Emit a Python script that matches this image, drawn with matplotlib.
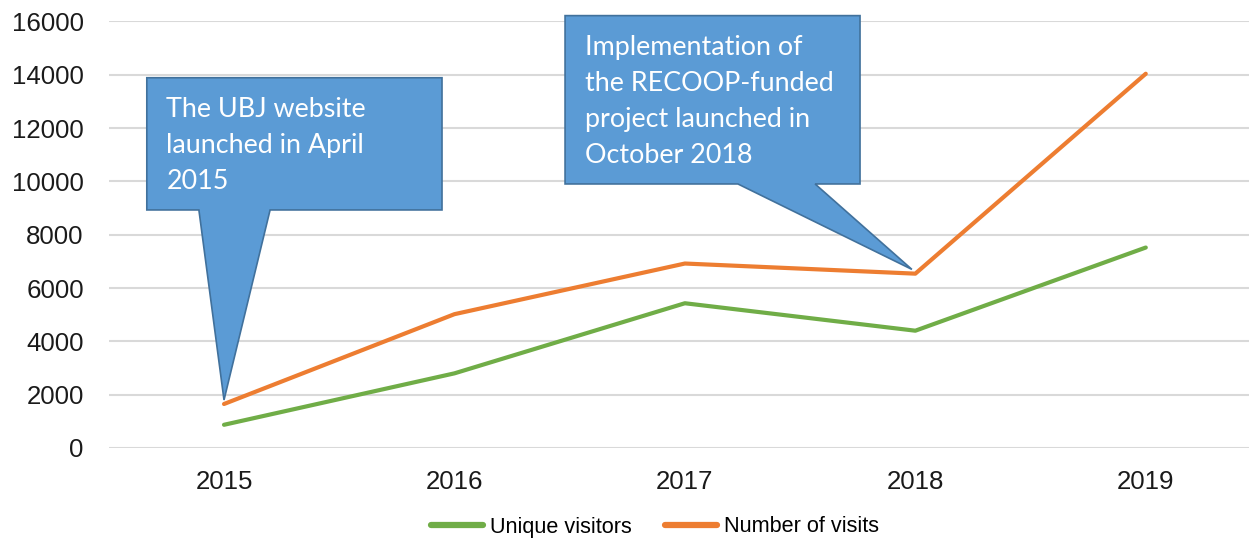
"""
Website traffic chart: unique visitors vs number of visits, 2015-2019,
with two callout boxes marking launch events.
"""

import matplotlib.pyplot as plt
from matplotlib.patches import Polygon


YEARS = ["2015", "2016", "2017", "2018", "2019"]
UNIQUE_VISITORS = [870, 2800, 5430, 4400, 7520]
NUMBER_OF_VISITS = [1650, 5020, 6920, 6540, 14040]
Y_TICKS = [0, 2000, 4000, 6000, 8000, 10000, 12000, 14000, 16000]

CALLOUT_TEXTS = [
    "The UBJ website\nlaunched in April\n2015",
    "Implementation of\nthe RECOOP-funded\nproject launched in\nOctober 2018",
]

GREEN = "#70AD47"
ORANGE = "#ED7D31"
BOX_FILL = "#5B9BD5"
BOX_EDGE = "#41719C"
GRID = "#D9D9D9"


def callout_shape(x0, x1, y0, y1, base_left, base_right, tip):
    """Rectangle with a pointer notch on the bottom edge (data coords)."""
    return [
        (x0, y1), (x1, y1), (x1, y0), (base_right, y0),
        tip, (base_left, y0), (x0, y0),
    ]


fig = plt.figure(figsize=(12.49, 5.40), dpi=100)
ax = fig.add_axes([0.0871, 0.1704, 0.9225, 0.7898])

x = list(range(len(YEARS)))
ax.plot(x, UNIQUE_VISITORS, color=GREEN, lw=3.0, solid_capstyle="round",
        label="Unique visitors", zorder=3)
ax.plot(x, NUMBER_OF_VISITS, color=ORANGE, lw=3.0, solid_capstyle="round",
        label="Number of visits", zorder=3)

ax.set_xlim(-0.5, 4.5)
ax.set_ylim(0, 16000)
ax.set_xticks(x)
ax.set_xticklabels(YEARS)
ax.set_yticks(Y_TICKS)
ax.yaxis.grid(True, color=GRID, lw=1.5)
ax.set_axisbelow(True)
for spine in ax.spines.values():
    spine.set_visible(False)
ax.tick_params(length=0, labelsize=18.6, colors="#1a1a1a")
ax.tick_params(axis="y", pad=18)
ax.tick_params(axis="x", pad=16)
for lbl in ax.get_xticklabels() + ax.get_yticklabels():
    lbl.set_fontfamily(["Liberation Sans", "DejaVu Sans"])

# callout 1 points at the 2015 start, callout 2 at the 2018 dip
shapes = [
    callout_shape(-0.335, 0.946, 8930, 13890, -0.109, 0.20, (0.0, 1800)),
    callout_shape(1.48, 2.76, 9905, 16220, 2.23, 2.565, (2.985, 6700)),
]
text_anchor = [(-0.25, 13150), (1.567, 15500)]
for verts, text, (tx, ty) in zip(shapes, CALLOUT_TEXTS, text_anchor):
    ax.add_patch(Polygon(verts, closed=True, facecolor=BOX_FILL,
                         edgecolor=BOX_EDGE, lw=1.2, zorder=4, clip_on=False))
    ax.text(tx, ty, text, color="white", fontsize=19.4, family="Lato",
            ha="left", va="top", linespacing=1.55, zorder=5)

leg = fig.legend(loc="center", bbox_to_anchor=(655 / 1249, 1 - 527 / 540),
                 ncol=2, frameon=False, handlelength=2.4, handletextpad=0.35,
                 columnspacing=1.5,
                 prop={"family": "Liberation Sans", "size": 15.6})
for line in leg.get_lines():
    line.set_linewidth(4.5)

fig.savefig("out.png", dpi=100)
